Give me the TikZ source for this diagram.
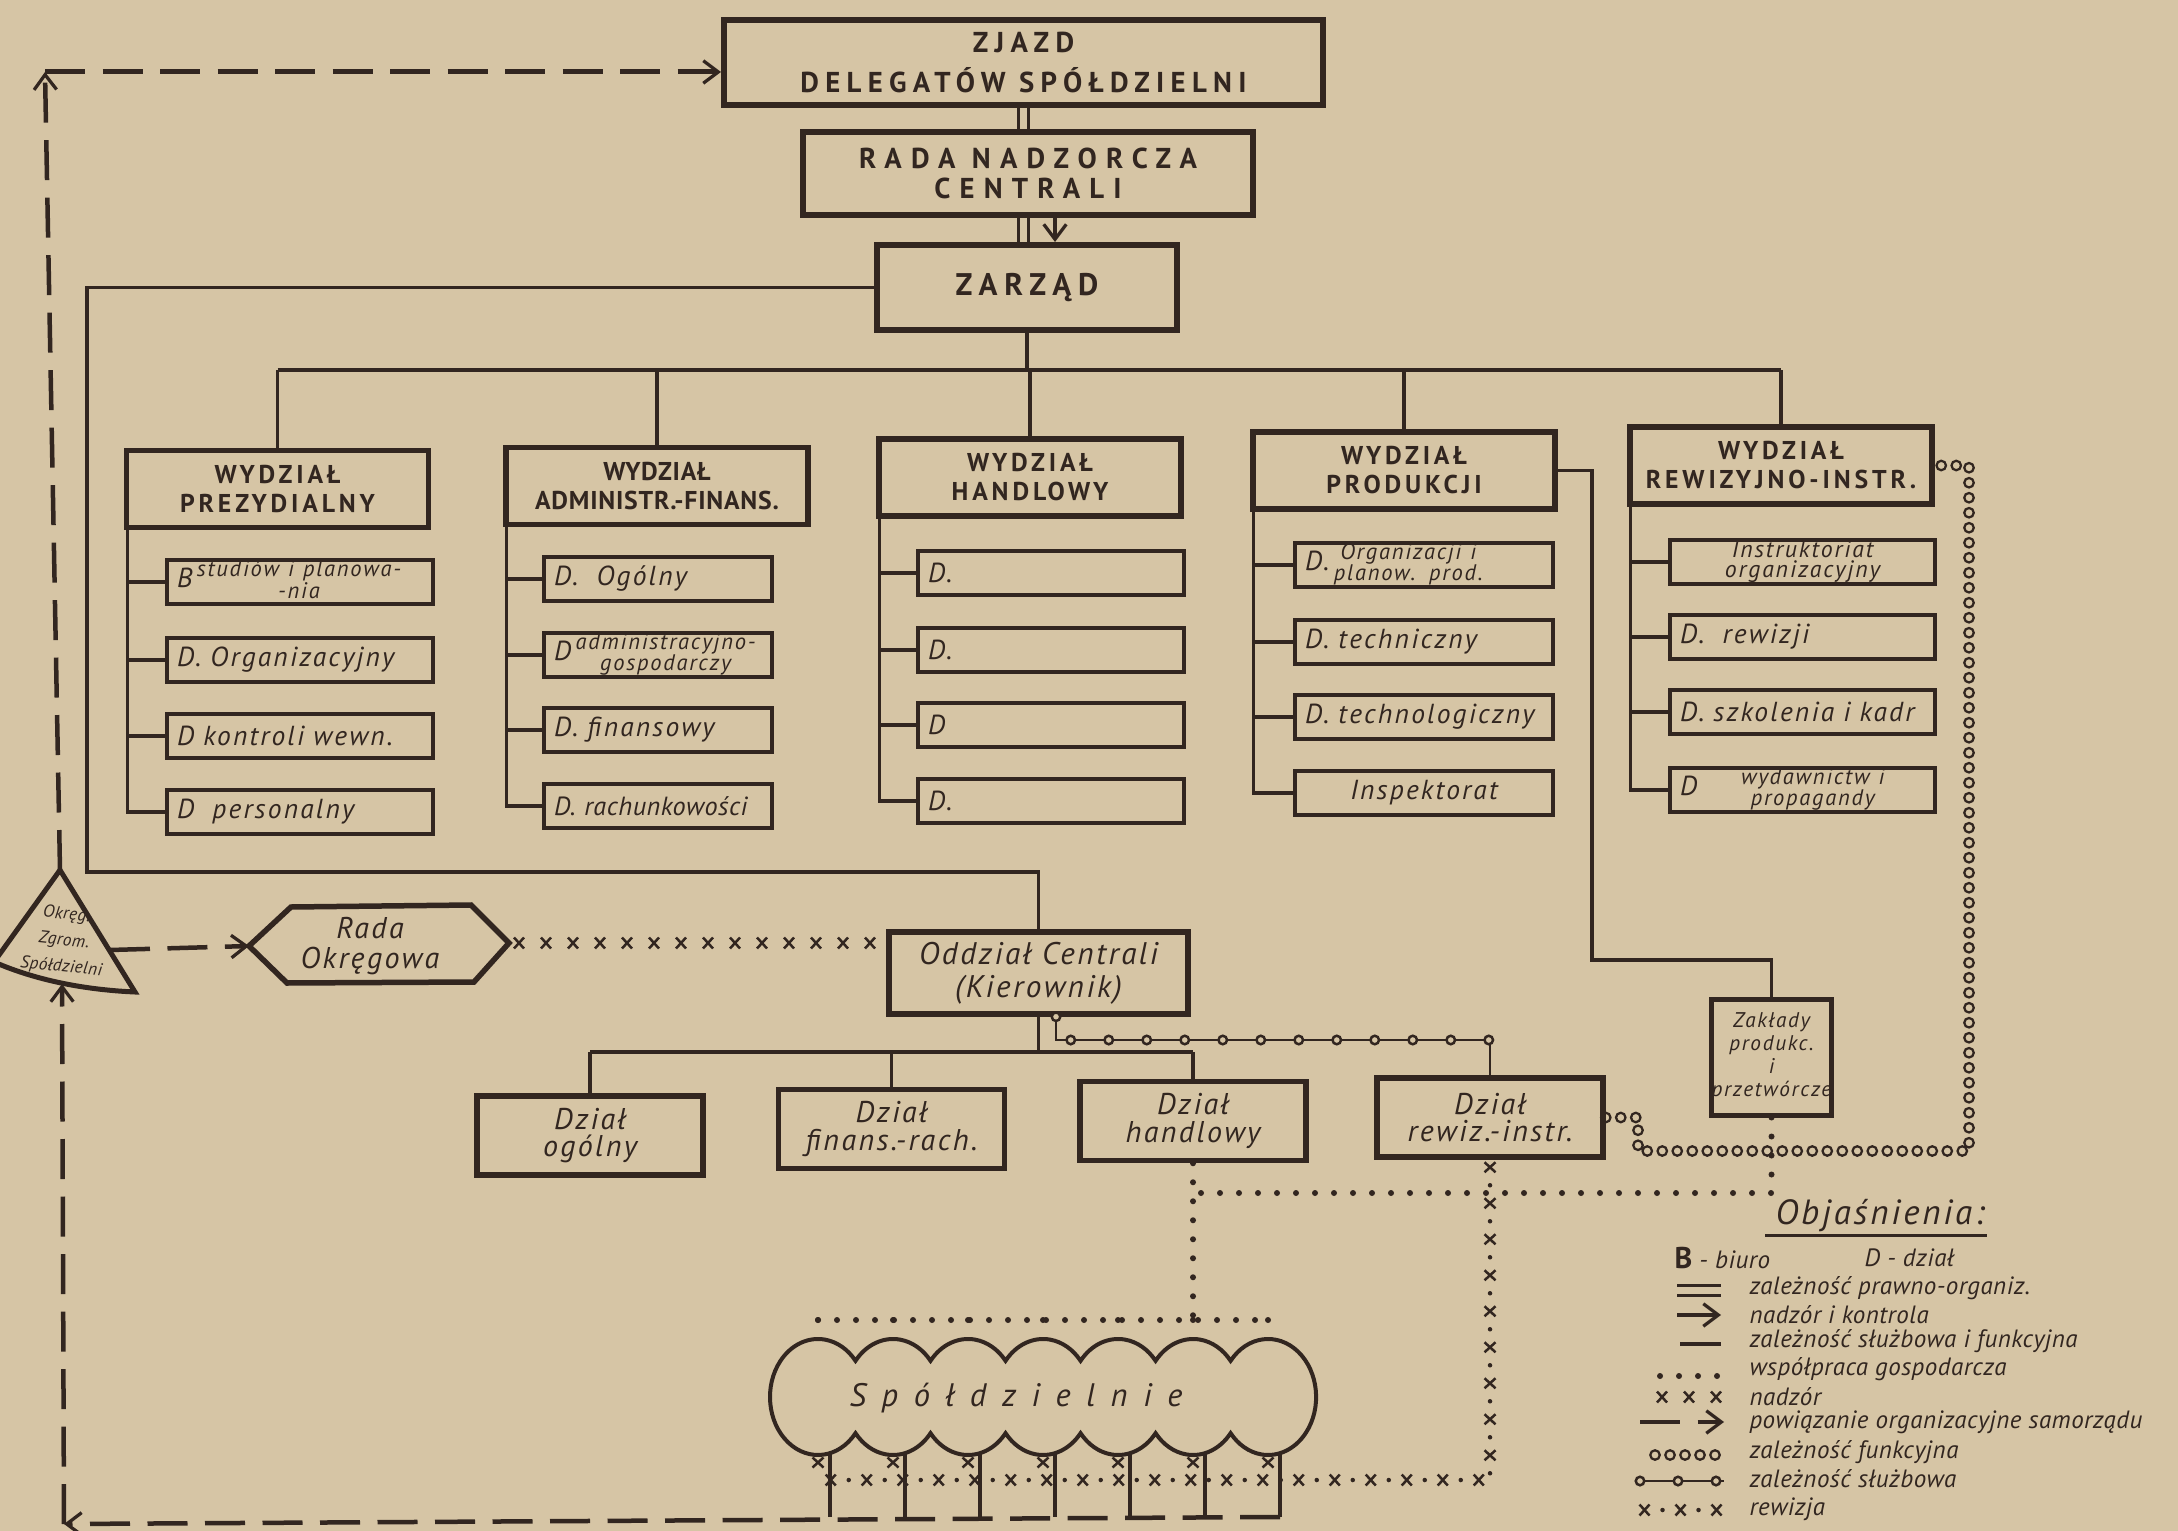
\documentclass[tikz,border=0pt]{standalone}
\usepackage{fontspec}
\setmainfont{PT Sans}
\newfontfamily\capsA{PT Sans}[LetterSpace=22]
\newfontfamily\capsB{PT Sans}[LetterSpace=32]
\newfontfamily\capsC{PT Sans}[LetterSpace=15]
\newfontfamily\capsD{PT Sans}[LetterSpace=3]
\newfontfamily\handfont{PT Sans}[LetterSpace=8]
\newfontfamily\legfont{PT Sans}[LetterSpace=2]
\newfontfamily\spolfont{PT Sans}[LetterSpace=48]
\usetikzlibrary{arrows.meta, decorations.markings}
\definecolor{paper}{RGB}{214,197,165}
\definecolor{ink}{RGB}{50,38,32}
\newcommand{\twoln}[2]{{\fontsize{9}{7}\selectfont\begin{tabular}[c]{@{}c@{}}#1\\#2\end{tabular}}}
\newcommand{\xsym}{\draw[line width=1pt] (-2pt,-2.2pt) -- (2pt,2.2pt) (-2pt,2.2pt) -- (2pt,-2.2pt);}
\newcommand{\dotsym}{\fill (0,0) circle (0.9pt);}

\begin{document}
\begin{tikzpicture}[x=0.4pt, y=-0.4pt, color=ink,
  big/.style={draw, line width=2.4pt, inner sep=0pt, align=center},
  wyd/.style={draw, line width=2.2pt, minimum width=120.8pt, minimum height=30.8pt, inner sep=0pt, align=center, font=\capsC\bfseries\fontsize{10.3}{11.6}\selectfont},
  sub/.style={draw, line width=1.8pt, inner xsep=4pt, inner ysep=0pt, minimum height=17.6pt, text width=#1, align=left, font=\handfont\itshape\fontsize{11}{12}\selectfont},
  dz/.style={draw, line width=2.2pt, minimum width=90.4pt, minimum height=31.6pt, inner sep=0pt, align=center, font=\handfont\itshape\fontsize{12}{11}\selectfont},
  conn/.style={line width=1.3pt},
  dbl/.style={line width=1.2pt, double=paper, double distance=2.8pt},
  dashd/.style={line width=1.8pt, dash pattern=on 16pt off 7pt},
  barb/.style={-{Straight Barb[length=6pt, width=9pt, line width=1.3pt]}},
  dots/.style={line width=2.4pt, line cap=round, dash pattern=on 0pt off 7.6pt},
  ochain/.style={decoration={markings, mark=between positions 0 and 1 step 6pt with {\draw[line width=0.9pt] (0,0) circle (1.9pt);}}, postaction={decorate}},
  sline/.style={line width=1.1pt, decoration={markings, mark=between positions 0 and 1 step 15.2pt with {\filldraw[fill=paper, line width=1pt] (0,0) circle (1.7pt);}}, postaction={decorate}},
  xline/.style={decoration={markings, mark=between positions 4pt and 1 step 10.8pt with {\xsym}}, postaction={decorate}},
  xdot/.style={postaction={decorate, decoration={markings, mark=between positions 3pt and 1 step 14.4pt with {\xsym}}},
               postaction={decorate, decoration={markings, mark=between positions 10.2pt and -3pt step 14.4pt with {\dotsym}}}},
  leg/.style={anchor=west, inner sep=0pt, font=\legfont\itshape\fontsize{10}{10}\selectfont}
]
\useasboundingbox (0,0) rectangle (2178,1531);
\fill[paper] (0,0) rectangle (2178,1531);

% top of the chart
\node[big, minimum width=239.6pt, minimum height=34pt, font=\capsA\bfseries\fontsize{11.5}{15.6}\selectfont] (zjazd) at (1023.5,62.5) {ZJAZD\\DELEGATÓW SPÓŁDZIELNI};
\node[big, minimum width=180pt, minimum height=33.2pt, font=\capsB\bfseries\fontsize{11.5}{11.8}\selectfont] (radan) at (1028,173.5) {RADA NADZORCZA\\CENTRALI};
\node[big, minimum width=120pt, minimum height=34pt, font=\capsA\bfseries\fontsize{12.5}{14}\selectfont] (zarzad) at (1027,287.5) {ZARZĄD};

% wydzialy
\node[wyd] (wp) at (277.5,489) {WYDZIAŁ\\PREZYDIALNY};
\node[wyd, font=\capsD\bfseries\fontsize{10.3}{11.6}\selectfont] (wa) at (657,486) {WYDZIAŁ\\ADMINISTR.-FINANS.};
\node[wyd] (wh) at (1030,477.5) {WYDZIAŁ\\HANDLOWY};
\node[wyd] (wq) at (1404,470.5) {WYDZIAŁ\\PRODUKCJI};
\node[wyd] (wr) at (1781,465.5) {WYDZIAŁ\\REWIZYJNO-INSTR.};

% dzialy of each wydzial
\node[sub=98.4pt] (p1) at (300,582) {B\,\twoln{studiów i planowa-}{-nia}};
\node[sub=98.4pt] (p2) at (300,660) {D. Organizacyjny};
\node[sub=98.4pt] (p3) at (300,736) {D kontroli wewn.};
\node[sub=98.4pt] (p4) at (300,812) {D\ \ personalny};

\node[sub=83.2pt] (a1) at (658,579) {D.\ \ Ogólny};
\node[sub=83.2pt] (a2) at (658,655) {D\,\twoln{administracyjno-}{gospodarczy}};
\node[sub=83.2pt] (a3) at (658,730) {D.\ finansowy};
\node[sub=83.2pt, font=\legfont\itshape\fontsize{10.5}{12}\selectfont] (a4) at (658,806) {D. rachunkowości};

\node[sub=98.4pt] (h1) at (1051,573) {D.};
\node[sub=98.4pt] (h2) at (1051,650) {D.};
\node[sub=98.4pt] (h3) at (1051,725) {D};
\node[sub=98.4pt] (h4) at (1051,801) {D.};

\node[sub=95.2pt] (q1) at (1424,565) {D.\,\twoln{Organizacji i}{planow. prod.}};
\node[sub=95.2pt] (q2) at (1424,642) {D.\ techniczny};
\node[sub=95.2pt] (q3) at (1424,717) {D. technologiczny};
\node[sub=95.2pt, align=center] (q4) at (1424,793) {Inspektorat};

\node[sub=98pt, align=center, font=\handfont\itshape\fontsize{9.5}{8}\selectfont] (r1) at (1802.5,562) {Instruktoriat\\organizacyjny};
\node[sub=98pt] (r2) at (1802.5,637) {D.\ \ rewizji};
\node[sub=98pt] (r3) at (1802.5,712) {D. szkolenia i kadr};
\node[sub=98pt] (r4) at (1802.5,790) {D\hspace{1.6em}\twoln{wydawnictw i}{propagandy}};

\node[draw, line width=2pt, minimum width=46.8pt, minimum height=46.4pt, inner sep=0pt, align=center, font=\handfont\itshape\fontsize{8.5}{9.2}\selectfont] (zakl) at (1771.5,1057) {Zakłady\\produkc.\\i\\przetwórcze};

% oddzial and its dzialy
\node[draw, line width=2.2pt, minimum width=119.6pt, minimum height=32.8pt, inner sep=0pt, align=center, font=\handfont\itshape\fontsize{12.5}{13.2}\selectfont] (oddz) at (1038.5,973) {Oddział Centrali\\(Kierownik)};
\node[dz] (dzo) at (590,1135.5) {Dział\\ogólny};
\node[dz] (dzf) at (891.5,1129) {Dział\\finans.-rach.};
\node[dz] (dzh) at (1193,1121) {Dział\\handlowy};
\node[dz] (dzr) at (1490,1117.5) {Dział\\rewiz.-instr.};

% rada okregowa and the triangle
\coordinate (radaW) at (249,946);
\coordinate (radaE) at (509,943);
\draw[line width=2.2pt] (radaW) -- (291,907) -- (471,905) -- (radaE) -- (474,982) -- (287,983) -- cycle;
\node[font=\handfont\itshape\fontsize{12}{12}\selectfont, align=center] (rado) at (370,946) {Rada\\Okręgowa};

\coordinate (tA) at (60,870);
\coordinate (tB) at (62,984);
\coordinate (tR) at (110,950);
\draw[line width=2pt] (tA) -- (-6,962) .. controls (40,982) and (90,990) .. (135,992) -- cycle;
\node[font=\legfont\itshape\fontsize{7}{10.5}\selectfont, align=center, rotate=-6, inner sep=0pt] (tri) at (64,941) {Okręg.\\Zgrom.\\Spółdzielni};

% spoldzielnie
\draw[line width=1.6pt] (855.5,1360.8)
  \foreach \i in {1,...,5} { arc[start angle=218.6, end angle=321.4, x radius=48, y radius=58] }
  arc[start angle=218.6, end angle=501.4, x radius=48, y radius=58]
  \foreach \i in {1,...,5} { arc[start angle=38.6, end angle=141.4, x radius=48, y radius=58] }
  arc[start angle=38.6, end angle=321.4, x radius=48, y radius=58] -- cycle;
\node[font=\spolfont\itshape\fontsize{13}{13}\selectfont] (spol) at (1016,1398) {Spółdzielnie};

% double lines and arrow
\coordinate (d1) at ([xshift=-2pt]radan.south);
\coordinate (d2) at ([xshift=10.8pt]radan.south);
\draw[dbl] (zjazd.south) -- (zjazd.south |- radan.north);
\draw[dbl] (d1) -- (d1 |- zarzad.north);
\draw[conn, barb] (d2) -- (d2 |- zarzad.north);

% zarzad to wydzialy
\coordinate (bus) at (0,370);
\draw[conn] (zarzad.south) -- (zarzad.south |- bus);
\draw[conn] (wp.north |- bus) -- (wr.north |- bus);
\foreach \wn in {wp,wa,wh,wq,wr} \draw[conn] (\wn.north) -- (\wn.north |- bus);
\foreach \wn/\sn in {wp/p,wa/a,wh/h,wq/q,wr/r} {
  \coordinate (\wn-t) at ([xshift=1.4pt]\wn.south west);
  \draw[conn] (\wn-t) |- (\sn4.west);
  \foreach \i in {1,2,3} \draw[conn] (\sn\i.west) -- (\sn\i.west -| \wn-t);
}
\draw[conn] (zarzad.west) -| (87,872) -| (oddz.north);
\draw[conn] (wq.east) -| (1592,960) -| (zakl.north);

% oddzial to its dzialy
\coordinate (bb) at (0,1052);
\draw[conn] (oddz.south) -- (oddz.south |- bb);
\draw[conn] (dzo.north |- bb) -- (dzh.north |- bb);
\foreach \d in {dzo,dzf,dzh} \draw[conn] (\d.north) -- (\d.north |- bb);
\coordinate (o1) at ([xshift=7pt]oddz.south);
\coordinate (o2) at (0,1040);
\draw[sline] (o1) |- (dzr.north |- o2) -- (dzr.north);

% nadzor, funkcyjna
\path[xline] (radaE) -- (radaE -| oddz.west);
\path[ochain] (dzr.east) -| (1638,1151) -| (1969,465.5) -- (wr.east);

% wspolpraca
\coordinate (dd) at (0,1193);
\coordinate (sr) at (0,1320);
\draw[dots] (zakl.south) |- (dzh.south |- dd);
\draw[dots] (dzh.south) -- (dzh.south |- sr);
\draw[dots] (818,1320) -- (1268,1320);

% rewizja
\path[xdot] (dzr.south) |- (818,1480);
\foreach \i [evaluate=\i as \cx using 818+75*(\i-1)] in {1,...,7} {
  \draw[dots] (\cx,1320) -- (\cx,1339);
  \path[xdot] (\cx,1455) -- (\cx,1480);
  \draw[conn] (\cx+12,1453) -- (\cx+12,1517);
}

% samorzad, dashed
\coordinate (c0) at (64,1524);
\coordinate (c1) at (45,72);
\coordinate (b1) at (1280,1517);
\draw[dashd, barb] (b1) -- (c0);
\draw[dashd, barb] (c0) -- (tB);
\draw[dashd, barb] (tA) -- (c1);
\draw[dashd, barb, line width=2pt] (c1) -- (c1 -| zjazd.west);
\draw[dashd, barb] (tR) -- (radaW);

% legend
\node[inner sep=1pt, font=\handfont\itshape\fontsize{14}{14}\selectfont] (obj) at (1880,1216) {Objaśnienia:};
\draw[line width=1.4pt] ([xshift=-3pt]obj.south west) -- (obj.south east);
\node[leg] (lgb) at (1674,1258) {{\upshape\bfseries\fontsize{12}{12}\selectfont B} - biuro};
\node[leg] (lgd) at (1864,1258) {D - dział};
\node[leg] (lg1) at (1749,1288) {zależność prawno-organiz.};
\node[leg] (lg2) at (1749,1315) {nadzór i kontrola};
\node[leg] (lg3) at (1749,1341) {zależność służbowa i funkcyjna};
\node[leg] (lg4) at (1749,1369) {współpraca gospodarcza};
\node[leg] (lg5) at (1749,1397) {nadzór};
\node[leg] (lg6) at (1749,1422) {powiązanie organizacyjne samorządu};
\node[leg] (lg7) at (1749,1452) {zależność funkcyjna};
\node[leg] (lg8) at (1749,1479) {zależność służbowa};
\node[leg] (lg9) at (1749,1509) {rewizja};
\draw[dbl] (1677,1290) -- (1721,1290);
\draw[conn, barb] (1677,1315) -- (1721,1315);
\draw[conn] (1680,1344) -- (1721,1344);
\draw[dots] (1660,1376) -- (1721,1376);
\path[xline] (1652,1397) -- (1724,1397);
\draw[dashd, barb] (1640,1422) -- (1724,1422);
\path[ochain] (1655,1455) -- (1721,1455);
\draw[sline] (1640,1481) -- (1724,1481);
\path[xdot] (1637,1510) -- (1722,1510);
\end{tikzpicture}
\end{document}
